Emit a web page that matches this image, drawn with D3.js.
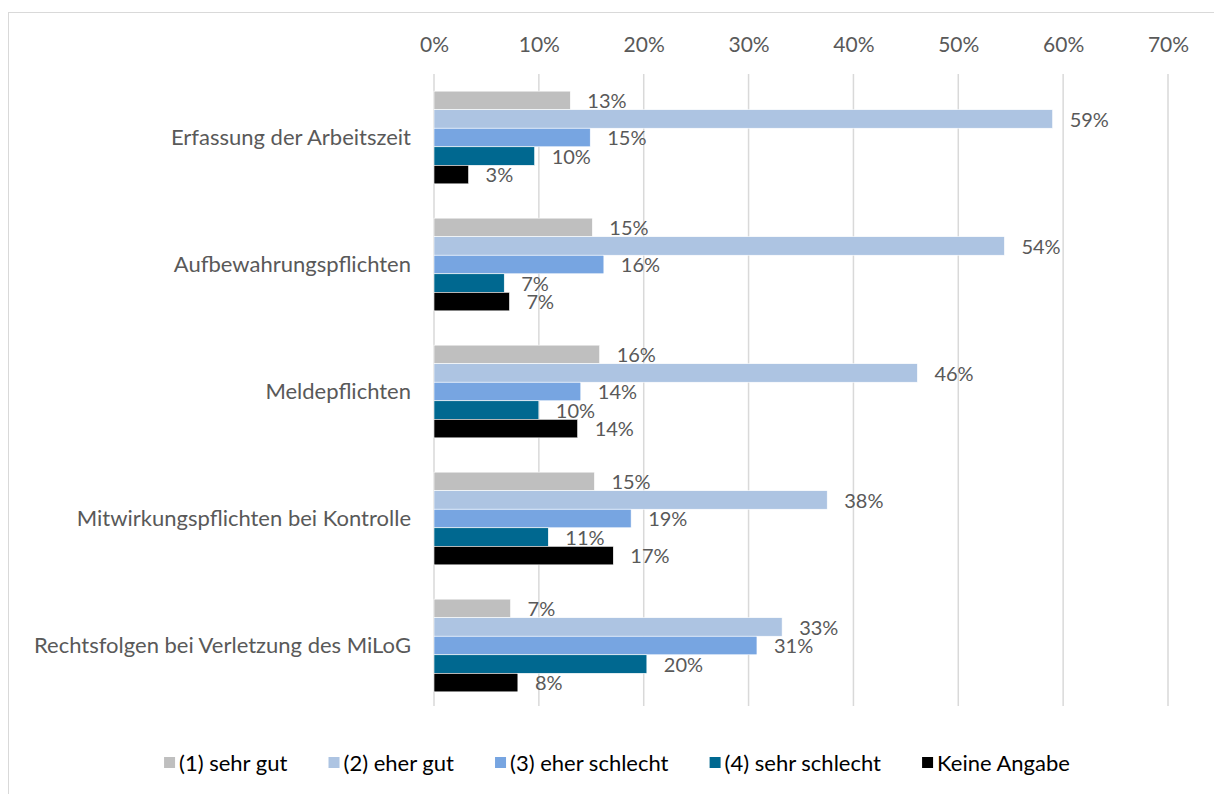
<!DOCTYPE html>
<html>
<head>
<meta charset="utf-8">
<script src="https://cdn.jsdelivr.net/npm/d3@7"></script>
<style>
  body { margin: 0; background: #fff; }
  svg { font-family: Lato, "Liberation Sans", sans-serif; }
</style>
</head>
<body>
<div id="chart"></div>
<script>
const categories = [
  "Erfassung der Arbeitszeit",
  "Aufbewahrungspflichten",
  "Meldepflichten",
  "Mitwirkungspflichten bei Kontrolle",
  "Rechtsfolgen bei Verletzung des MiLoG"
];
const seriesNames = ["(1) sehr gut", "(2) eher gut", "(3) eher schlecht", "(4) sehr schlecht", "Keine Angabe"];
const sehrGut      = [13.0, 15.1, 15.8, 15.3, 7.3];
const eherGut      = [59.0, 54.4, 46.1, 37.5, 33.2];
const eherSchlecht = [14.9, 16.2, 14.0, 18.8, 30.8];
const sehrSchlecht = [9.6, 6.7, 10.0, 10.9, 20.3];
const keineAngabe  = [3.3, 7.2, 13.7, 17.1, 8.0];
const xTicks = [0, 10, 20, 30, 40, 50, 60, 70];

const seriesValues = [sehrGut, eherGut, eherSchlecht, sehrSchlecht, keineAngabe];
const colors = ["#bfbfbf", "#adc4e2", "#77a5e1", "#006890", "#000000"];

const width = 1214, height = 794;
const margin = { top: 74, right: 46, bottom: 85, left: 434 };
const textColor = "#595959";

const svg = d3.select("#chart").append("svg")
  .attr("width", width)
  .attr("height", height);

// chart frame (cut off at right/bottom like the screenshot)
svg.append("rect")
  .attr("x", 8.5).attr("y", 12.5)
  .attr("width", width).attr("height", height)
  .attr("fill", "none")
  .attr("stroke", "#d9d9d9");

const x = d3.scaleLinear().domain([0, 70]).range([margin.left, 1168]);
const y = d3.scaleBand().domain(categories)
  .range([margin.top, 709])
  .paddingInner(0.27).paddingOuter(0.135);
const ySub = d3.scaleBand().domain(d3.range(seriesNames.length)).range([0, y.bandwidth()]);

// gridlines
svg.append("g").selectAll("line")
  .data(xTicks)
  .join("line")
  .attr("x1", d => x(d)).attr("x2", d => x(d))
  .attr("y1", margin.top).attr("y2", 706)
  .attr("stroke", "#d9d9d9")
  .attr("stroke-width", 1.5);

// top axis labels
const xAxis = d3.axisTop(x).tickValues(xTicks).tickFormat(d => d + "%").tickSize(0).tickPadding(0);
const ax = svg.append("g").attr("transform", "translate(0,52)").call(xAxis);
ax.select(".domain").remove();
ax.selectAll("text").attr("fill", textColor).style("font-size", "21px").style("font-family", "Lato, 'Liberation Sans', sans-serif");

// category labels
svg.append("g").selectAll("text")
  .data(categories)
  .join("text")
  .attr("x", 411)
  .attr("y", d => y(d) + y.bandwidth() / 2)
  .attr("dy", "0.35em")
  .attr("text-anchor", "end")
  .attr("fill", textColor)
  .style("font-size", "22px")
  .text(d => d);

// bars
const rows = [];
categories.forEach((c, ci) => {
  seriesValues.forEach((vals, si) => rows.push({ cat: c, s: si, v: vals[ci] }));
});

const groups = svg.append("g");
groups.selectAll("rect")
  .data(rows)
  .join("rect")
  .attr("x", x(0))
  .attr("y", d => y(d.cat) + ySub(d.s))
  .attr("width", d => x(d.v) - x(0))
  .attr("height", ySub.bandwidth())
  .attr("fill", d => colors[d.s])
  .attr("stroke", "#ffffff")
  .attr("stroke-width", 0.6);

groups.selectAll("text")
  .data(rows)
  .join("text")
  .attr("x", d => x(d.v) + 17)
  .attr("y", d => y(d.cat) + ySub(d.s) + ySub.bandwidth() / 2)
  .attr("dy", "0.38em")
  .attr("fill", textColor)
  .style("font-size", "20px")
  .text(d => Math.round(d.v) + "%");

// legend
const legend = svg.append("g");
const items = legend.selectAll("g")
  .data(seriesNames)
  .join("g");
items.append("rect")
  .attr("width", 11).attr("height", 11)
  .attr("y", -6)
  .attr("fill", (d, i) => colors[i]);
items.append("text")
  .attr("x", 15)
  .attr("dy", "0.36em")
  .attr("fill", "#000")
  .style("font-size", "22px")
  .text(d => d);

let cx = 0;
const offsets = [];
items.each(function () {
  offsets.push(cx);
  cx += this.getBBox().width + 41;
});
const total = cx - 41;
const startX = 617 - total / 2;
items.attr("transform", (d, i) => `translate(${startX + offsets[i]},763)`);
</script>
</body>
</html>
